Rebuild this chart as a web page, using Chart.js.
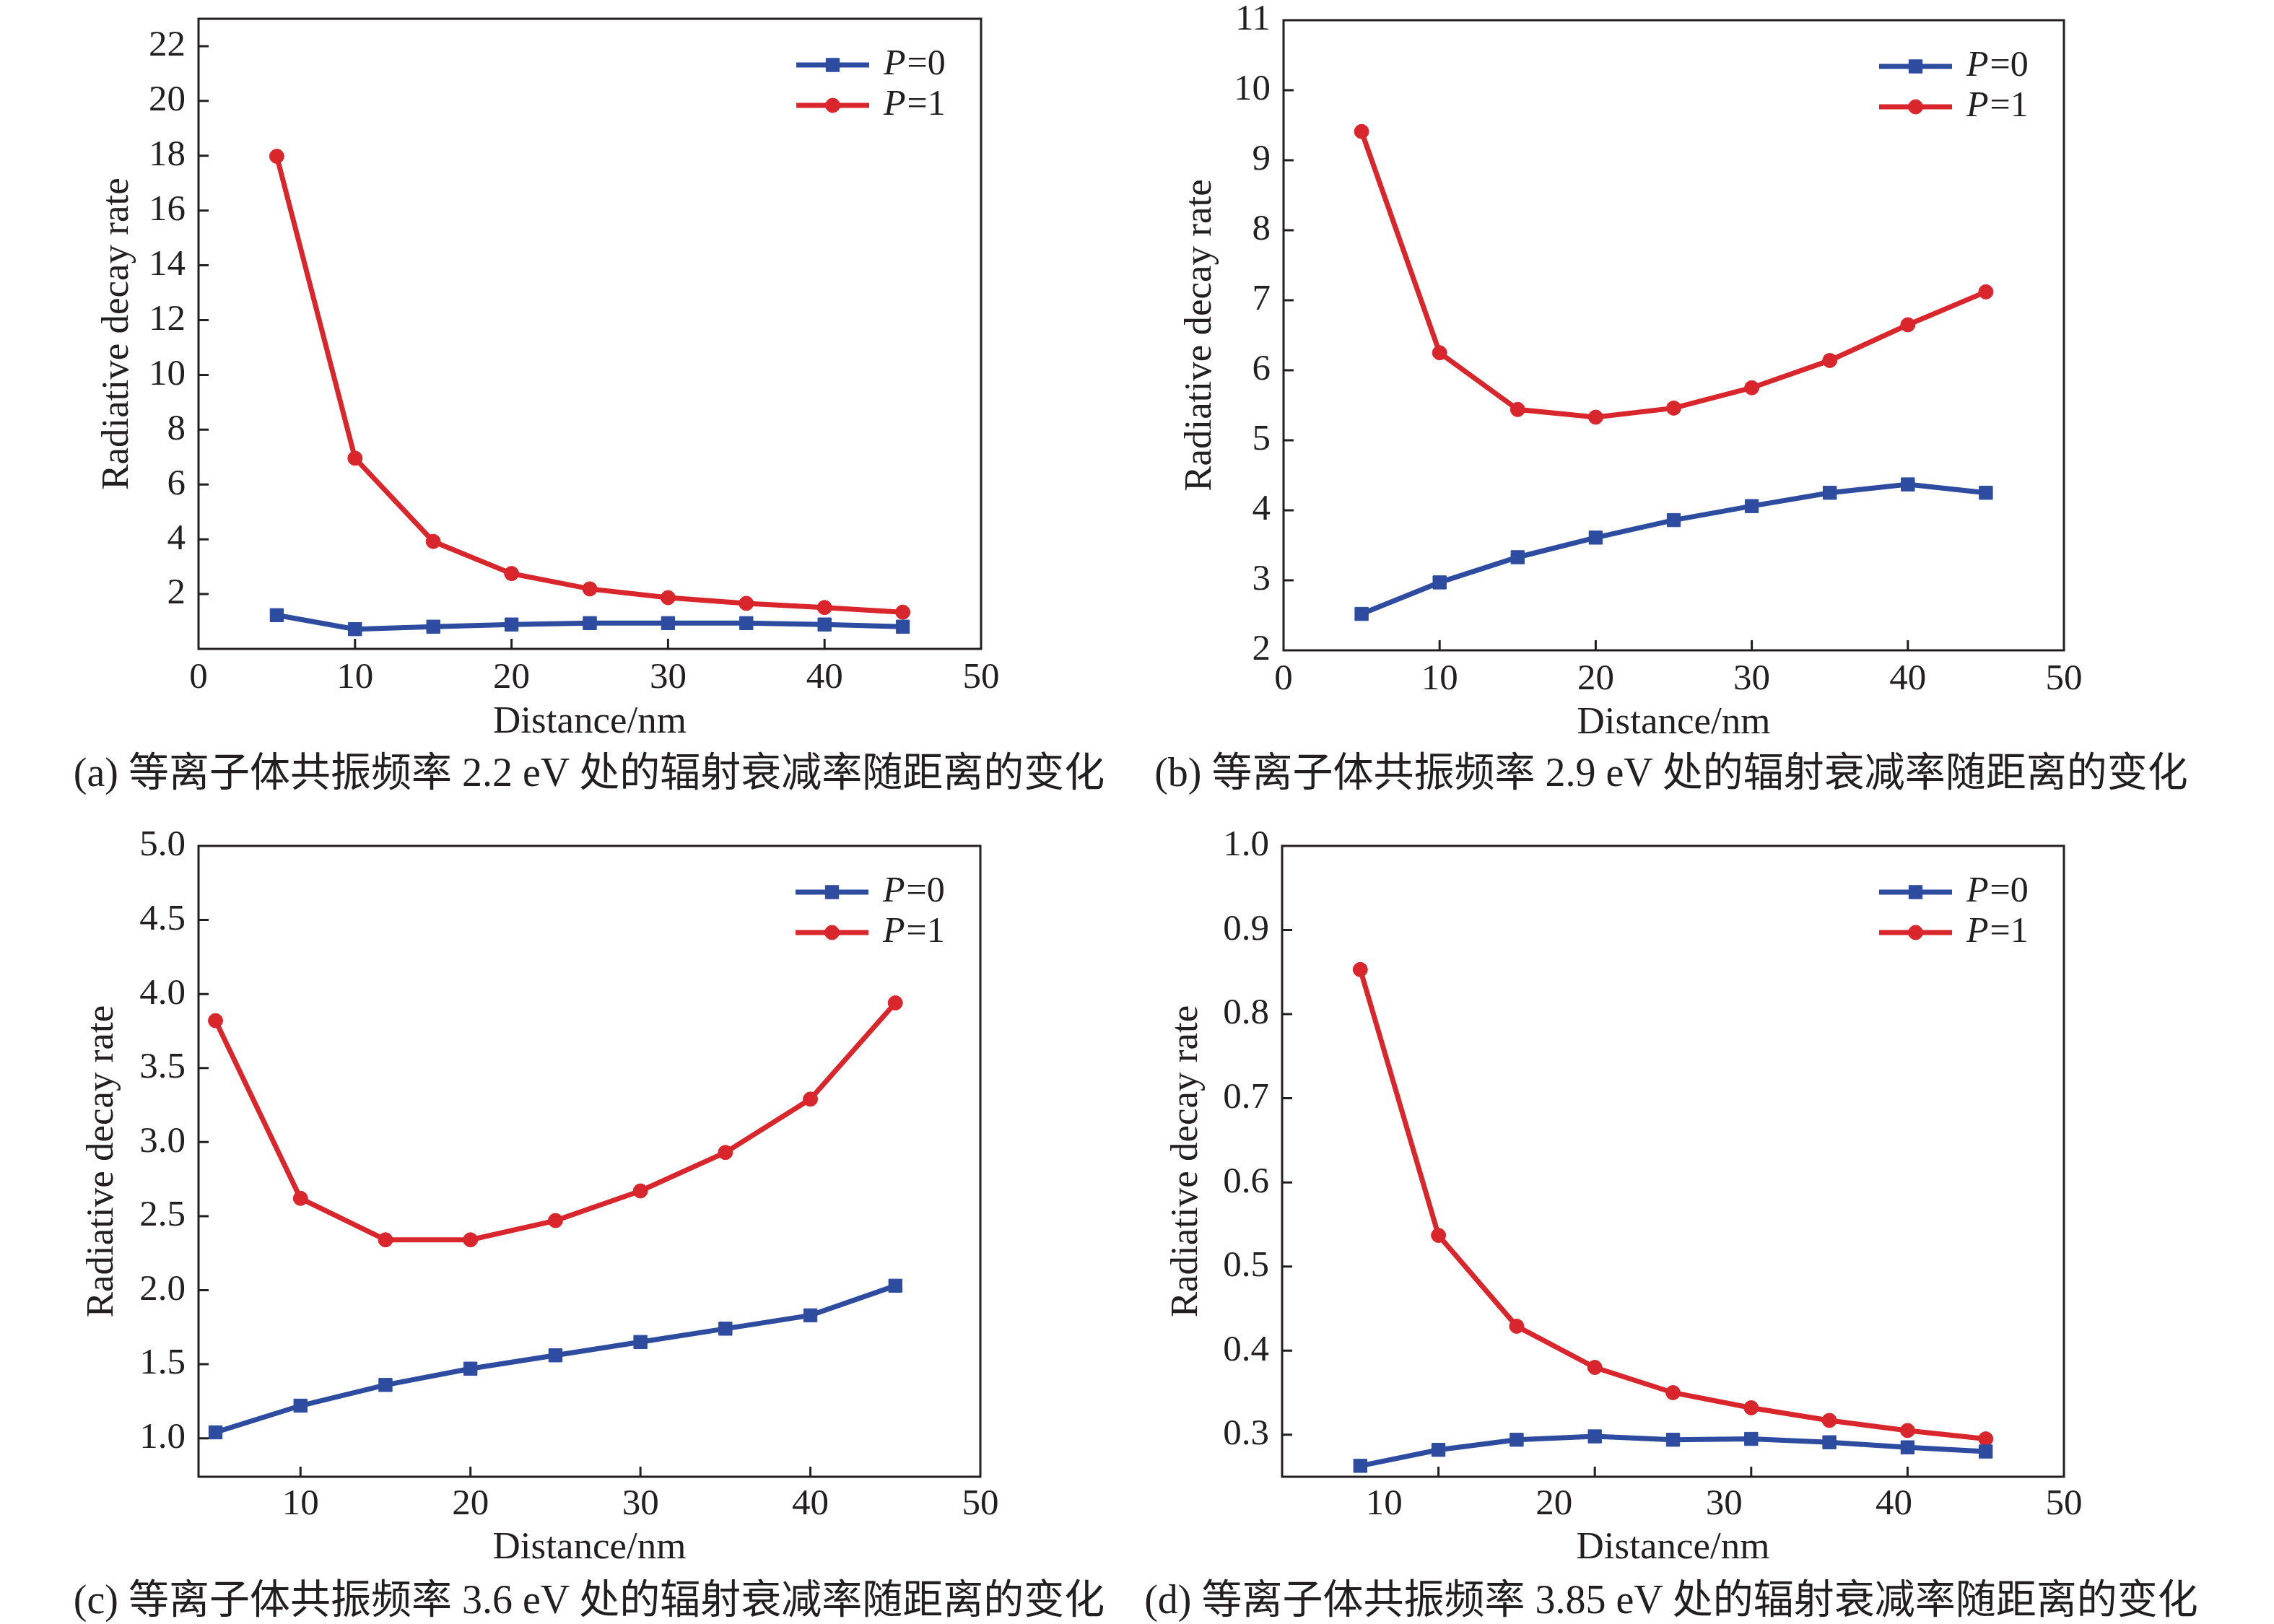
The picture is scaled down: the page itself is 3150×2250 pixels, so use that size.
<!DOCTYPE html>
<html>
<head>
<meta charset="utf-8">
<script src="https://cdn.jsdelivr.net/npm/chart.js@4.4.1/dist/chart.umd.min.js"></script>
<style>
  html, body { margin: 0; padding: 0; background: #fff; }
  body { width: 3150px; height: 2250px; position: relative; overflow: hidden; }
  canvas { position: absolute; }
  .cap {
    position: absolute; transform: translate(-50%, -50%); white-space: nowrap;
    font-family: "Liberation Serif", "Noto Sans CJK SC", serif; font-size: 56px;
    line-height: 1; color: #231f20;
  }
</style>
</head>
<body>
<canvas id="pa" width="1575" height="1125" style="left:0;top:0"></canvas>
<canvas id="pb" width="1575" height="1125" style="left:1575px;top:0"></canvas>
<canvas id="pc" width="1575" height="1125" style="left:0;top:1125px"></canvas>
<canvas id="pd" width="1575" height="1125" style="left:1575px;top:1125px"></canvas>
<div class="cap" style="left:816px;top:1070px">(a) 等离子体共振频率 2.2 eV 处的辐射衰减率随距离的变化</div>
<div class="cap" style="left:2315px;top:1070px">(b) 等离子体共振频率 2.9 eV 处的辐射衰减率随距离的变化</div>
<div class="cap" style="left:816px;top:2216px">(c) 等离子体共振频率 3.6 eV 处的辐射衰减率随距离的变化</div>
<div class="cap" style="left:2315px;top:2216px">(d) 等离子体共振频率 3.85 eV 处的辐射衰减率随距离的变化</div>
<script>
// distance in nm, same for every panel
const distance = [5, 10, 15, 20, 25, 30, 35, 40, 45];

// (a) 2.2 eV
const rateA0 = [1.23, 0.72, 0.81, 0.89, 0.94, 0.94, 0.94, 0.89, 0.81];
const rateA1 = [17.98, 6.96, 3.92, 2.75, 2.19, 1.87, 1.66, 1.51, 1.34];
// (b) 2.9 eV
const rateB0 = [2.52, 2.97, 3.33, 3.61, 3.86, 4.06, 4.25, 4.37, 4.25];
const rateB1 = [9.41, 6.25, 5.44, 5.33, 5.46, 5.75, 6.14, 6.65, 7.12];
// (c) 3.6 eV
const rateC0 = [1.04, 1.22, 1.36, 1.47, 1.56, 1.65, 1.74, 1.83, 2.03];
const rateC1 = [3.82, 2.62, 2.34, 2.34, 2.47, 2.67, 2.93, 3.29, 3.94];
// (d) 3.85 eV
const rateD0 = [0.263, 0.282, 0.294, 0.298, 0.294, 0.295, 0.291, 0.285, 0.280];
const rateD1 = [0.853, 0.537, 0.429, 0.380, 0.350, 0.332, 0.317, 0.305, 0.295];

// tick labels
const xTicksA = [0, 10, 20, 30, 40, 50];
const yTicksA = [2, 4, 6, 8, 10, 12, 14, 16, 18, 20, 22];
const xTicksB = [0, 10, 20, 30, 40, 50];
const yTicksB = [2, 3, 4, 5, 6, 7, 8, 9, 10, 11];
const xTicksC = [10, 20, 30, 40, 50];
const yTicksC = [1.0, 1.5, 2.0, 2.5, 3.0, 3.5, 4.0, 4.5, 5.0];
const xTicksD = [10, 20, 30, 40];          // tick marks in (d)
const xLabelsD = [10, 20, 30, 40, 50];     // labels in (d) sit on their own scale
const yTicksD = [0.3, 0.4, 0.5, 0.6, 0.7, 0.8, 0.9, 1.0];

const seriesLabels = ["P=0", "P=1"];

const ink = "#231f20";
const blue = "#2e4c9f";
const red = "#d8262c";
const serif = "'Liberation Serif', 'Times New Roman', serif";
const tickFont = { family: serif, size: 51 };
const titleFont = { family: serif, size: 53 };

// box round the plot area, ticks pointing inwards, and the legend
const framePlugin = {
  id: "frame",
  afterDraw(chart) {
    const { ctx, chartArea: a } = chart;
    ctx.save();
    ctx.strokeStyle = ink;
    ctx.lineWidth = 3;
    ctx.strokeRect(a.left, a.top, a.right - a.left, a.bottom - a.top);

    const sx = chart.scales.x, sy = chart.scales.y;
    ctx.beginPath();
    sx.ticks.forEach(t => {
      const px = sx.getPixelForValue(t.value);
      if (px > a.left + 3 && px < a.right - 3) {
        ctx.moveTo(px, a.bottom);
        ctx.lineTo(px, a.bottom - 14);
      }
    });
    sy.ticks.forEach(t => {
      const py = sy.getPixelForValue(t.value);
      if (py > a.top + 3 && py < a.bottom - 3) {
        ctx.moveTo(a.left, py);
        ctx.lineTo(a.left + 14, py);
      }
    });
    ctx.stroke();

    chart.data.datasets.forEach((ds, i) => {
      const y = a.top + 64 + i * 56;
      const x0 = a.right - 256, x1 = a.right - 155;
      ctx.strokeStyle = ds.borderColor;
      ctx.fillStyle = ds.borderColor;
      ctx.lineWidth = ds.borderWidth;
      ctx.beginPath();
      ctx.moveTo(x0, y);
      ctx.lineTo(x1, y);
      ctx.stroke();
      ctx.lineWidth = 1;
      Chart.helpers.drawPoint(ctx, { pointStyle: ds.pointStyle, radius: ds.pointRadius, borderWidth: 1, rotation: 0 }, (x0 + x1) / 2, y);

      ctx.fillStyle = ink;
      ctx.textBaseline = "middle";
      ctx.textAlign = "left";
      const tx = a.right - 135;
      ctx.font = "italic 50px " + serif;
      ctx.fillText(ds.label.charAt(0), tx, y);
      const w = ctx.measureText(ds.label.charAt(0)).width;
      ctx.font = "50px " + serif;
      ctx.fillText(ds.label.slice(1), tx + w + 2, y);
    });
    ctx.restore();
  }
};

function series(label, values, color, style, radius) {
  return {
    label: label,
    data: distance.map((d, i) => ({ x: d, y: values[i] })),
    borderColor: color,
    backgroundColor: color,
    pointBackgroundColor: color,
    pointBorderColor: color,
    pointBorderWidth: 1,
    borderWidth: 7,
    pointStyle: style,
    pointRadius: radius,
    tension: 0,
    fill: false
  };
}

function setTicks(list) {
  return function (scale) {
    scale.ticks = list.map(v => ({ value: v }));
  };
}

// fixed scale sizes, and no extra room asked for by the tick labels
function fixSize(w, h) {
  return function (s) {
    if (w !== null) s.width = w;
    if (h !== null) s.height = h;
    s.paddingTop = 0; s.paddingBottom = 0; s.paddingLeft = 0; s.paddingRight = 0;
  };
}

function makePanel(p) {
  const scales = {
    x: {
      type: "linear",
      position: "bottom",
      min: p.xMin,
      max: p.xMax,
      afterBuildTicks: setTicks(p.xTicks),
      grid: { display: false, drawTicks: false },
      border: { display: false },
      ticks: { display: !p.xLabels, padding: p.xPad, color: ink, font: tickFont, maxRotation: 0, autoSkip: false },
      title: { display: !p.xLabels, text: "Distance/nm", color: ink, font: titleFont, padding: 0 },
      afterFit: fixSize(null, p.xLabels ? 0 : p.xH)
    },
    y: {
      type: "linear",
      min: p.yMin,
      max: p.yMax,
      afterBuildTicks: setTicks(p.yTicks),
      grid: { display: false, drawTicks: false },
      border: { display: false },
      ticks: {
        padding: 18, color: ink, font: tickFont, autoSkip: false,
        callback: v => v.toFixed(p.digits)
      },
      title: { display: true, text: "Radiative decay rate", color: ink, font: titleFont, padding: 0 },
      afterFit: fixSize(p.yW, null)
    }
  };
  if (p.xLabels) {
    scales.x2 = {
      type: "linear",
      position: "bottom",
      min: p.x2Min,
      max: p.xMax,
      afterBuildTicks: setTicks(p.xLabels),
      grid: { display: false, drawTicks: false },
      border: { display: false },
      ticks: { padding: p.xPad, color: ink, font: tickFont, maxRotation: 0, autoSkip: false },
      title: { display: true, text: "Distance/nm", color: ink, font: titleFont, padding: 0 },
      afterFit: fixSize(null, p.xH)
    };
  }
  new Chart(document.getElementById(p.id), {
    type: "line",
    data: {
      datasets: [
        series(seriesLabels[0], p.p0, blue, "rect", 13),
        series(seriesLabels[1], p.p1, red, "circle", 10)
      ]
    },
    options: {
      responsive: false,
      devicePixelRatio: 1,
      animation: false,
      layout: { autoPadding: false, padding: p.pad },
      scales: scales,
      plugins: { legend: { display: false }, tooltip: { enabled: false } }
    },
    plugins: [framePlugin]
  });
}

makePanel({ id: "pa", p0: rateA0, p1: rateA1, xMin: 0, xMax: 50, yMin: 0, yMax: 23,
  xTicks: xTicksA, yTicks: yTicksA, digits: 0,
  pad: { left: 131, top: 26, right: 216, bottom: 92 }, yW: 144, xH: 134, xPad: 10 });
makePanel({ id: "pb", p0: rateB0, p1: rateB1, xMin: 0, xMax: 50, yMin: 2, yMax: 11,
  xTicks: xTicksB, yTicks: yTicksB, digits: 0,
  pad: { left: 56, top: 28, right: 291, bottom: 91 }, yW: 147, xH: 133, xPad: 10 });
makePanel({ id: "pc", p0: rateC0, p1: rateC1, xMin: 4, xMax: 50, yMin: 0.74, yMax: 5.0,
  xTicks: xTicksC, yTicks: yTicksC, digits: 1,
  pad: { left: 110, top: 47, right: 217, bottom: 73 }, yW: 165, xH: 131, xPad: 8 });
makePanel({ id: "pd", p0: rateD0, p1: rateD1, xMin: 0, xMax: 50, x2Min: 4, yMin: 0.25, yMax: 1.0,
  xTicks: xTicksD, xLabels: xLabelsD, yTicks: yTicksD, digits: 1,
  pad: { left: 37, top: 47, right: 291, bottom: 73 }, yW: 164, xH: 131, xPad: 8 });
</script>
</body>
</html>
